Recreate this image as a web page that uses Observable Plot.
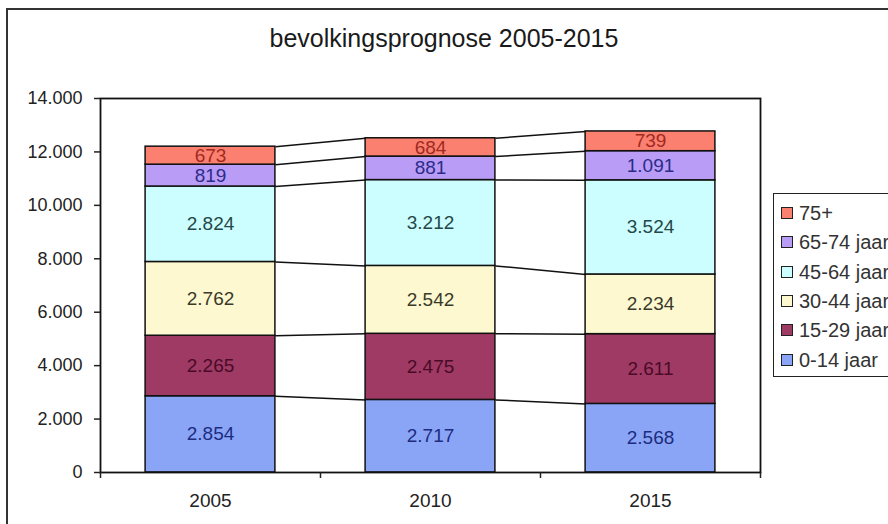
<!DOCTYPE html>
<html>
<head>
<meta charset="utf-8">
<script src="https://cdn.jsdelivr.net/npm/d3@7"></script>
<script src="https://cdn.jsdelivr.net/npm/@observablehq/plot@0.6"></script>
<style>
  html, body { margin: 0; padding: 0; background: #fff; }
  body { width: 888px; height: 524px; overflow: hidden; position: relative; font-family: "Liberation Sans", Arial, sans-serif; }
  #frame { position: absolute; left: 6px; top: 8px; width: 900px; height: 540px; border: 2px solid #333; box-sizing: border-box; }
  #title { position: absolute; left: 0; width: 888px; top: 24px; text-align: center; font-size: 25px; font-weight: normal; color: #1a1a1a; }
  #chart { position: absolute; left: 0; top: 0; }
  #legend { position: absolute; left: 773px; top: 193px; width: 140px; height: 184px; border: 1.5px solid #222; box-sizing: border-box; background: #fff; }
  .item { position: absolute; left: 7px; height: 24px; font-size: 20px; line-height: 24px; color: #333; white-space: nowrap; display: flex; align-items: center; }
  .sw { width: 10px; height: 10px; border: 1px solid #222; margin-right: 6px; display: inline-block; }
</style>
</head>
<body>
<div id="frame"></div>
<div id="chart"></div>
<div id="title">bevolkingsprognose 2005-2015</div>
<div id="legend"></div>
<script>
// ---- data ----
const years = ["2005", "2010", "2015"];
const groups = ["0-14 jaar", "15-29 jaar", "30-44 jaar", "45-64 jaar", "65-74 jaar", "75+"];
const age0_14  = [2854, 2717, 2568];
const age15_29 = [2265, 2475, 2611];
const age30_44 = [2762, 2542, 2234];
const age45_64 = [2824, 3212, 3524];
const age65_74 = [819, 881, 1091];
const age75    = [673, 684, 739];
const yTicks = [0, 2000, 4000, 6000, 8000, 10000, 12000, 14000];

// ---- styles ----
const fills = ["#8ba5f6", "#9e3a63", "#fdf8d0", "#ccfeff", "#b99cf6", "#fb8070"];
const labelColors = ["#1c2c80", "#4a0a28", "#3a3a2a", "#244848", "#2c2c88", "#a02a20"];
const pad = 0.205; // half of the gap between bars, in band units

const series = [age0_14, age15_29, age30_44, age45_64, age65_74, age75];

// stacked rows
const rows = [];
years.forEach((yr, i) => {
  let acc = 0;
  series.forEach((vals, g) => {
    const v = vals[i];
    rows.push({year: yr, i, g, group: groups[g], value: v, y1: acc, y2: acc + v});
    acc += v;
  });
});
// series lines between adjacent bars
const links = [];
for (let i = 0; i < years.length - 1; i++) {
  groups.forEach((_, g) => {
    const a = rows.find(r => r.i === i && r.g === g);
    const b = rows.find(r => r.i === i + 1 && r.g === g);
    links.push({x1: i + 1 - pad, x2: i + 1 + pad, y1: a.y2, y2: b.y2});
  });
}
const fmt = d => d3.format(",")(d).replace(/,/g, ".");

const chart = Plot.plot({
  width: 888,
  height: 524,
  marginLeft: 100,
  marginRight: 128,
  marginTop: 98,
  marginBottom: 52,
  style: {fontFamily: "'Liberation Sans', Arial, sans-serif", fontSize: "18px", color: "#222", background: "transparent"},
  x: {type: "linear", domain: [0, years.length]},
  y: {domain: [0, 14000]},
  marks: [
    Plot.rect(rows, {
      x1: d => d.i + pad, x2: d => d.i + 1 - pad, y1: "y1", y2: "y2",
      fill: d => fills[d.g], stroke: "#111", strokeWidth: 1.5
    }),
    Plot.link(links, {x1: "x1", x2: "x2", y1: "y1", y2: "y2", stroke: "#111", strokeWidth: 1.5}),
    Plot.text(rows, {
      x: d => d.i + 0.5, y: d => (d.y1 + d.y2) / 2, text: d => fmt(d.value),
      fill: d => labelColors[d.g], fontSize: 19
    }),
    Plot.frame({stroke: "#111", strokeWidth: 1.8}),
    Plot.axisY({ticks: yTicks, tickFormat: fmt, tickSize: 6, tickPadding: 12, label: null, fontSize: 18, strokeWidth: 1.5}),
    Plot.axisX({ticks: d3.range(years.length + 1), tickFormat: () => "", tickSize: 6, label: null, strokeWidth: 1.5}),
    Plot.axisX({ticks: years.map((_, i) => i + 0.5), tickFormat: t => years[Math.floor(t)], tickSize: 0, tickPadding: 21, label: null, fontSize: 19})
  ]
});
document.getElementById("chart").appendChild(chart);

// legend
const legend = document.getElementById("legend");
const order = groups.map((_, g) => g).reverse();
order.forEach((g, k) => {
  const it = document.createElement("div");
  it.className = "item";
  it.style.top = (7 + k * 29.3) + "px";
  const sw = document.createElement("span");
  sw.className = "sw";
  sw.style.background = fills[g];
  it.appendChild(sw);
  it.appendChild(document.createTextNode(groups[g]));
  legend.appendChild(it);
});
</script>
</body>
</html>
